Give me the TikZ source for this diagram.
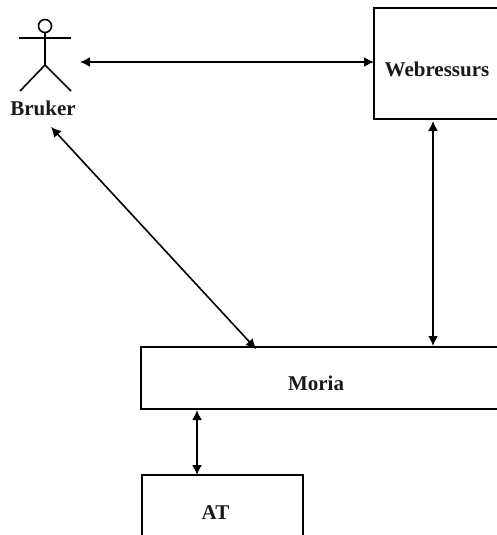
\documentclass[tikz,border=0pt]{standalone}
\usepackage{fontspec}
\setmainfont{Liberation Serif}
\usetikzlibrary{arrows.meta}
\tikzset{
  px/.style={x=1pt,y=-1pt},
  boxnode/.style={draw=black,line width=1.8pt,fill=white,inner sep=0pt,outer sep=0pt,minimum width=#1},
  lbl/.style={font=\fontsize{21}{23}\selectfont\bfseries,inner sep=0pt,text=black!90},
  link/.style={line width=1.6pt,{Latex[length=10pt,width=10pt]}-{Latex[length=10pt,width=10pt]}},
  actor/.style={line width=1.6pt,draw=black}
}
\begin{document}
\begin{tikzpicture}[px]
\useasboundingbox (0,0) rectangle (497,535);
\clip (0,0) rectangle (497,535);
% boxes (running off the picture's edge, as in the reference)
\node[boxnode=146pt,minimum height=111pt,anchor=north west] (web) at (374,8) {};
\node[boxnode=376pt,minimum height=62pt,anchor=north west] (moria) at (141,347) {};
\node[boxnode=161pt,minimum height=80pt,anchor=north west] (at) at (142,475) {};
\node[lbl] (webt) at (437,69) {Webressurs};
\node[lbl] (moriat) at (316,383) {Moria};
\node[lbl] (att) at (215.5,513) {AT};
% actor
\node[circle,actor,minimum size=13pt,inner sep=0pt,outer sep=0pt] (head) at (45,26) {};
\coordinate (hip) at (45,65);
\coordinate (armL) at (19,38);
\coordinate (armR) at (71,38);
\coordinate (footL) at (20,91);
\coordinate (footR) at (71,91);
\draw[actor] (head.south) -- (hip);
\draw[actor] (armL) -- (armR);
\draw[actor] (footL) -- (hip) -- (footR);
\node[lbl] (bruker) at (43,108) {Bruker};
% connectors
\coordinate (a1) at (80,62);
\coordinate (a2) at (374,62);
\coordinate (b1) at (51,127);
\coordinate (b2) at (256,349);
\coordinate (c1) at (433,121);
\coordinate (c2) at (433,346);
\coordinate (d1) at (197,410);
\coordinate (d2) at (197,475);
\draw[link] (a1) -- (a2);
\draw[link] (b1) -- (b2);
\draw[link] (c1) -- (c2);
\draw[link] (d1) -- (d2);
\end{tikzpicture}
\end{document}
